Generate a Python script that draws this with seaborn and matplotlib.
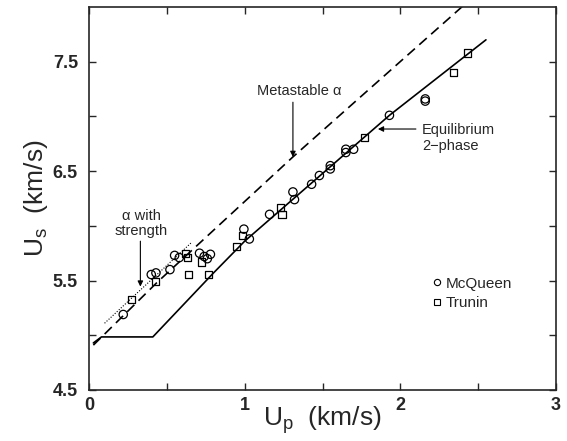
import matplotlib
matplotlib.use("Agg")
import matplotlib.pyplot as plt
import seaborn as sns
from matplotlib.lines import Line2D

# ---- data ----
mcqueen_up = [0.22, 0.40, 0.43, 0.52, 0.55, 0.58, 0.71, 0.74, 0.76, 0.78,
              0.995, 1.03, 1.16, 1.31, 1.32, 1.43, 1.48, 1.55, 1.55,
              1.65, 1.65, 1.70, 1.93, 2.16, 2.16]
mcqueen_us = [5.19, 5.555, 5.57, 5.60, 5.73, 5.71, 5.75, 5.72, 5.70, 5.74,
              5.97, 5.88, 6.105, 6.31, 6.24, 6.38, 6.46, 6.55, 6.52,
              6.70, 6.67, 6.70, 7.01, 7.16, 7.14]

trunin_up = [0.274, 0.43, 0.62, 0.63, 0.64, 0.72, 0.77, 0.95, 0.985,
             1.23, 1.24, 1.77, 2.34, 2.43]
trunin_us = [5.33, 5.49, 5.75, 5.71, 5.555, 5.67, 5.555, 5.81, 5.91,
             6.17, 6.105, 6.81, 7.40, 7.58]

equil_up = [0.028, 0.08, 0.41, 0.80, 1.00, 1.93, 2.55]
equil_us = [4.93, 4.985, 4.985, 5.57, 5.86, 7.01, 7.70]

meta_up = [0.028, 0.435, 1.31, 2.45]
meta_us = [4.91, 5.48, 6.63, 8.07]

strength_up = [0.10, 0.66]
strength_us = [5.11, 5.85]

xticks = [0, 0.5, 1, 1.5, 2, 2.5, 3]
xticklabels = ["0", "", "1", "", "2", "", "3"]
yticks = [4.5, 5.0, 5.5, 6.0, 6.5, 7.0, 7.5]
yticklabels = ["4.5", "", "5.5", "", "6.5", "", "7.5"]

# ---- style ----
sns.set_style("ticks")
plt.rcParams['font.family'] = ['Liberation Sans', 'DejaVu Sans']

fig = plt.figure(figsize=(5.67, 4.41), dpi=100)
ax = fig.add_axes([89/567, 1-390/441, (556-89)/567, (390-7)/441])

sns.lineplot(x=equil_up, y=equil_us, ax=ax, color="black", lw=1.2,
             sort=False, estimator=None)
sns.lineplot(x=meta_up, y=meta_us, ax=ax, color="black", lw=1.2,
             sort=False, estimator=None, dashes=False)
ax.lines[-1].set_dashes((6, 3.5))
sns.lineplot(x=strength_up, y=strength_us, ax=ax, color="black", lw=0.8,
             sort=False, estimator=None)
ax.lines[-1].set_dashes((1, 1.5))

sns.scatterplot(x=mcqueen_up, y=mcqueen_us, ax=ax, marker="o", s=36,
                facecolor="none", edgecolor="black", linewidth=0.9, zorder=3)
sns.scatterplot(x=trunin_up, y=trunin_us, ax=ax, marker="s", s=26,
                facecolor="none", edgecolor="black", linewidth=0.9, zorder=3)

ax.set_xlim(0, 3)
ax.set_ylim(4.5, 8.0)
ax.set_xticks(xticks)
ax.set_xticklabels(xticklabels)
ax.set_yticks(yticks)
ax.set_yticklabels(yticklabels)
ax.tick_params(direction="in", length=5, width=1, top=True, right=True,
               labelsize=13)
ax.tick_params(axis="x", pad=5)
ax.tick_params(axis="y", pad=8)
for lab in ax.get_xticklabels() + ax.get_yticklabels():
    lab.set_fontweight("bold")
for sp in ax.spines.values():
    sp.set_linewidth(1.2)
    sp.set_visible(True)

ax.set_xlabel(r"U$_\mathregular{p}$  (km/s)", fontsize=19)
ax.set_ylabel(r"U$_\mathregular{s}$  (km/s)", fontsize=19)
ax.xaxis.set_label_coords(0.5, -0.036)
ax.yaxis.set_label_coords(-0.083, 0.5)

# annotations
afs = 10.5
arrow = dict(arrowstyle="-|>", color="black", lw=0.8, mutation_scale=8,
             shrinkA=0, shrinkB=0)
ax.text(1.35, 7.23, "Metastable α", fontsize=afs, ha="center", va="center")
ax.annotate("", xy=(1.31, 6.63), xytext=(1.31, 7.13), arrowprops=arrow)

ax.text(2.14, 6.80, "Equilibrium\n2\u2212phase", fontsize=afs, ha="left",
        va="center", linespacing=1.15)
ax.annotate("", xy=(1.856, 6.885), xytext=(2.10, 6.885), arrowprops=arrow)

ax.text(0.334, 6.02, "α with\nstrength", fontsize=afs, ha="center",
        va="center", linespacing=1.15)
ax.annotate("", xy=(0.33, 5.445), xytext=(0.33, 5.86), arrowprops=arrow)

handles = [Line2D([], [], marker="o", ls="none", mfc="none", mec="black",
                  ms=4.5, mew=0.8, label="McQueen"),
           Line2D([], [], marker="s", ls="none", mfc="none", mec="black",
                  ms=4, mew=0.8, label="Trunin")]
ax.legend(handles=handles, loc="center left", bbox_to_anchor=(0.715, 0.252),
          frameon=False, fontsize=11, handletextpad=0.1, handlelength=1.0,
          labelspacing=0.35, borderaxespad=0)

fig.savefig("out.png", dpi=100)
